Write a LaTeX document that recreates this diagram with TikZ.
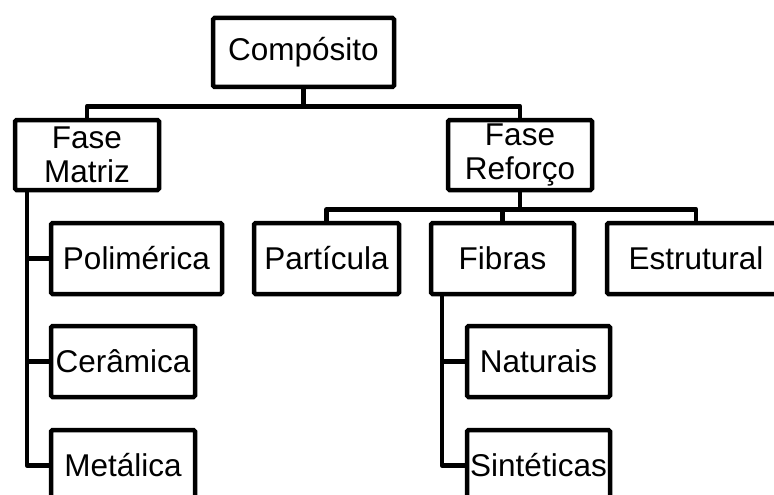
\documentclass[tikz,border=0pt]{standalone}
\usepackage{fontspec}
\setmainfont{Liberation Sans}
\begin{document}
\begin{tikzpicture}[
    x=1pt, y=-1pt,
    box/.style={
        draw, line width=4.5pt, rounded corners=1.5pt, inner sep=0pt,
        minimum width=144pt, minimum height=71pt, align=center,
        font=\fontsize{31.5}{34}\selectfont, fill=white
    },
    link/.style={draw, line width=4.5pt, line join=round}
]
\useasboundingbox (0,0) rectangle (774,495);
\clip (0,0) rectangle (774,495);
% top levels
\node[box, minimum width=181pt, minimum height=69pt] (comp) at (303.5,52.5) {Compósito};
\node[box, minimum height=70pt] (matriz) at (87,155) {Fase\\Matriz};
\node[box, minimum height=70pt] (reforco) at (520,155) {Fase\\Reforço};
% matrix branch
\node[box, minimum width=171pt] (polim) at (136.5,258.5) {Polimérica};
\node[box] (ceram) at (123,361.5) {Cerâmica};
\node[box] (metal) at (123,465.5) {Metálica};
% reinforcement branch
\foreach \name/\x/\w/\lbl in {%
    part/326.5/145/Partícula, fibras/502.5/143/Fibras,
    estrut/696/178/Estrutural%
} {
    \node[box, minimum width=\w pt] (\name) at (\x,258.5) {\lbl};
}
\node[box, minimum width=143pt] (natur) at (538.5,361.5) {Naturais};
\node[box, minimum width=143pt] (sint) at (538.5,465.5) {Sintéticas};
% connectors
\draw[link] (comp.south) -- ++(0,17) coordinate (cj) -| (matriz.north);
\draw[link] (cj) -| (reforco.north);
\draw[link] (reforco.south) -- ++(0,17) coordinate (rj);
\foreach \n in {part,fibras,estrut}
    \draw[link] (rj) -| (\n.north);
\foreach \n in {polim,ceram,metal}
    \draw[link] ([xshift=14pt]matriz.south west) |- (\n.west);
\foreach \n in {natur,sint}
    \draw[link] ([xshift=13pt]fibras.south west) |- (\n.west);
\end{tikzpicture}
\end{document}
